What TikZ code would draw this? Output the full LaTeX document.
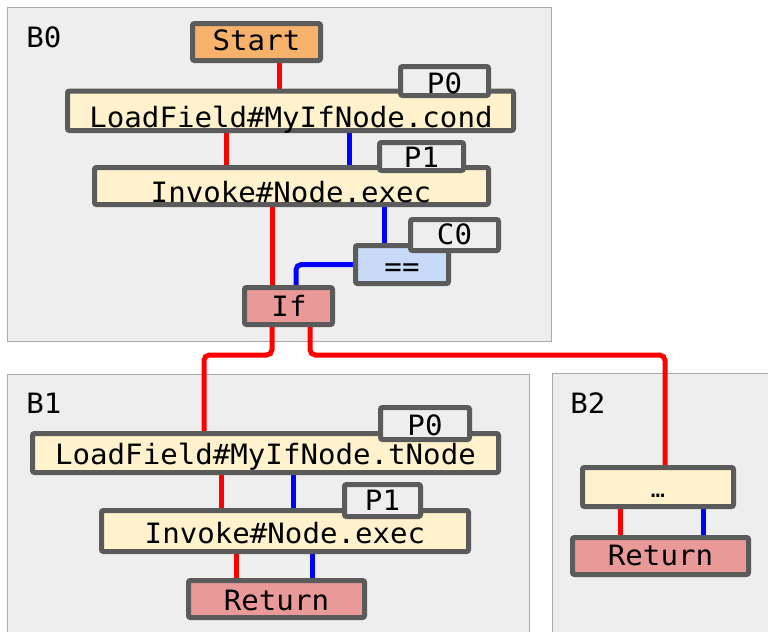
\documentclass[tikz,border=0pt]{standalone}
\usepackage{fontspec}
\setmonofont[FakeStretch=1.04]{DejaVu Sans Mono}
\usetikzlibrary{fit}

\definecolor{clusterbg}{HTML}{EEEEEE}
\definecolor{clusterln}{HTML}{AAAAAA}
\definecolor{nodeln}{HTML}{5B5B5B}
\definecolor{startfill}{HTML}{F6B26B}
\definecolor{opfill}{HTML}{FFF2CC}
\definecolor{cmpfill}{HTML}{C9DAF8}
\definecolor{ctlfill}{HTML}{EA9999}
\definecolor{ctrlcol}{HTML}{FF0000}
\definecolor{datacol}{HTML}{0000FF}

\pgfdeclarelayer{clusters}
\pgfdeclarelayer{edges}
\pgfsetlayers{clusters,edges,main}

\tikzset{
  cluster/.style={draw=clusterln, fill=clusterbg, line width=0.75pt},
  irbox/.style={draw=nodeln, line width=3.75pt, rounded corners=1.5pt, inner sep=0pt},
  startbox/.style={irbox, fill=startfill},
  opbox/.style={irbox, fill=opfill},
  cmpbox/.style={irbox, fill=cmpfill},
  ctlbox/.style={irbox, fill=ctlfill},
  tagbox/.style={irbox, fill=clusterbg},
  lbl/.style={anchor=base, inner sep=0pt, font=\ttfamily\fontsize{21}{21}\selectfont},
  blocklbl/.style={lbl, anchor=base west},
  ctrledge/.style={draw=ctrlcol, line width=3.75pt, rounded corners=4pt},
  dataedge/.style={draw=datacol, line width=3.75pt, rounded corners=4pt},
}

\begin{document}
\begin{tikzpicture}[x=0.75pt, y=-0.75pt]
\useasboundingbox (0,0) rectangle (768,632);
\clip (0,0) rectangle (768,632);

% basic blocks
\begin{pgfonlayer}{clusters}
  \path[cluster] (7.5,7.5) rectangle (551.5,341);
  \path[cluster] (7.5,374) rectangle (529,645);
  \path[cluster] (552,373.5) rectangle (780,645);
\end{pgfonlayer}
\node[blocklbl] (b0) at (26,47) {B0};
\node[blocklbl] (b1) at (26,413) {B1};
\node[blocklbl] (b2) at (570,413) {B2};

% block B0
\node[startbox, fit={(192.5,23.5) (320.5,60.5)}] (start) {};
\node[lbl] (startT) at (256.5,50) {Start};
\node[opbox, fit={(67.5,91) (513.5,130.5)}] (ldc) {};
\node[lbl] (ldcT) at (291,127) {LoadField\#MyIfNode.cond};
\node[opbox, fit={(94.5,167.5) (488.5,204.5)}] (ivk) {};
\node[lbl] (ivkT) at (291,202) {Invoke\#Node.exec};
\node[cmpbox, fit={(355.5,245.5) (448.5,283.5)}] (eq) {};
\node[lbl] (eqT) at (402,276) {==};
\node[ctlbox, fit={(244.5,287.5) (332.5,324.5)}] (if) {};
\node[lbl] (ifT) at (289,316) {If};
\node[tagbox, fit={(400.5,66.5) (488.5,95.5)}] (p0a) {};
\node[lbl] (p0aT) at (444.5,93) {P0};
\node[tagbox, fit={(379.5,142.5) (463.5,170.5)}] (p1a) {};
\node[lbl] (p1aT) at (421.5,167) {P1};
\node[tagbox, fit={(410.5,219.5) (498.5,250.5)}] (c0) {};
\node[lbl] (c0T) at (454.5,244) {C0};

% block B1
\node[opbox, fit={(32.5,433.5) (498.5,472.5)}] (ldt) {};
\node[lbl] (ldtT) at (265.5,464) {LoadField\#MyIfNode.tNode};
\node[opbox, fit={(101.5,510.5) (468.5,551.5)}] (ivkb) {};
\node[lbl] (ivkbT) at (285,543) {Invoke\#Node.exec};
\node[ctlbox, fit={(188.5,580.5) (364.5,617.5)}] (retb) {};
\node[lbl] (retbT) at (276.5,610) {Return};
\node[tagbox, fit={(380.5,407.5) (469.5,439.5)}] (p0b) {};
\node[lbl] (p0bT) at (425,435) {P0};
\node[tagbox, fit={(344.5,484.5) (420.5,516.5)}] (p1b) {};
\node[lbl] (p1bT) at (382.5,510) {P1};

% block B2
\node[opbox, fit={(582.5,467.5) (733.5,506.5)}] (etc) {};
\node[lbl, font=\ttfamily\fontsize{17}{17}\selectfont] (etcT) at (658,497) {…};
\node[ctlbox, fit={(572.5,537.5) (748.5,574.5)}] (retc) {};
\node[lbl] (retcT) at (660.5,565) {Return};

% control and data edges
\begin{pgfonlayer}{edges}
  \draw[ctrledge] (279,0 |- start.south) -- (279,0 |- ldc.north);
  \draw[ctrledge] (226,0 |- ldc.south) -- (226,0 |- ivk.north);
  \draw[dataedge] (349,0 |- ldc.south) -- (349,0 |- ivk.north);
  \draw[ctrledge] (272,0 |- ivk.south) -- (272,0 |- if.north);
  \draw[dataedge] (384,0 |- ivk.south) -- (384,0 |- eq.north);
  \draw[dataedge] (eq.west) -- (296,0 |- eq.west) -- (296,0 |- if.north);
  \draw[ctrledge] (272,0 |- if.south) -- (272,355) -- (204,355) -- (204,0 |- ldt.north);
  \draw[ctrledge] (310,0 |- if.south) -- (310,355) -- (665,355) -- (665,0 |- etc.north);
  \draw[ctrledge] (221,0 |- ldt.south) -- (221,0 |- ivkb.north);
  \draw[dataedge] (293,0 |- ldt.south) -- (293,0 |- ivkb.north);
  \draw[ctrledge] (236.5,0 |- ivkb.south) -- (236.5,0 |- retb.north);
  \draw[dataedge] (312,0 |- ivkb.south) -- (312,0 |- retb.north);
  \draw[ctrledge] (620,0 |- etc.south) -- (620,0 |- retc.north);
  \draw[dataedge] (703,0 |- etc.south) -- (703,0 |- retc.north);
\end{pgfonlayer}
\end{tikzpicture}
\end{document}
